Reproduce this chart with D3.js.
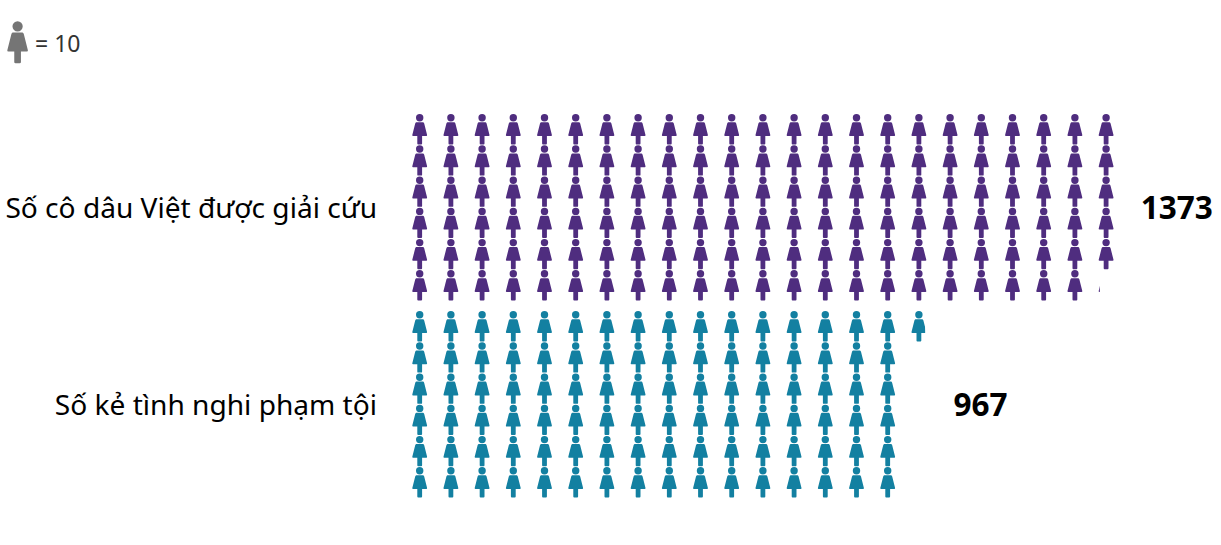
<!DOCTYPE html>
<html><head><meta charset="utf-8">
<script src="https://cdnjs.cloudflare.com/ajax/libs/d3/7.8.5/d3.min.js"></script>
<style>html,body{margin:0;padding:0;background:#fff}svg{display:block}text{font-family:"Noto Sans",sans-serif}</style>
</head><body><svg id="c" width="1221" height="545"></svg>
<script>
const categories=["Số cô dâu Việt được giải cứu","Số kẻ tình nghi phạm tội"];
const values=[1373,967];
const colors=["#4f2d7f","#1380a1"];
const unit=10, rowsPerCol=6, colCount=23;
const legendText="= 10";
const svg=d3.select("#c");
const x=d3.scaleLinear().domain([0,colCount]).range([404.1,404.1+31.2*colCount]);
const gy=d3.scaleBand().domain(categories).range([114,114+197*2]);
const ry=d3.scaleLinear().domain([0,rowsPerCol]).range([0,31.2*rowsPerCol]);
const body=d3.path();
body.moveTo(-3.5,8.2);body.lineTo(3.5,8.2);body.quadraticCurveTo(4.2,8.4,4.5,9.5);body.lineTo(7.4,21);body.quadraticCurveTo(7.6,22,6.6,22);
body.lineTo(2.4,22);body.lineTo(2.4,29.5);body.quadraticCurveTo(2.4,30.4,1.5,30.4);body.lineTo(-1.5,30.4);body.quadraticCurveTo(-2.4,30.4,-2.4,29.5);body.lineTo(-2.4,22);
body.lineTo(-6.6,22);body.quadraticCurveTo(-7.6,22,-7.4,21);body.lineTo(-4.5,9.5);body.quadraticCurveTo(-4.2,8.4,-3.5,8.2);body.closePath();
body.moveTo(3.7,3.8);body.arc(0,3.8,3.7,0,2*Math.PI);
const shape=body.toString();
const defs=svg.append("defs");
categories.forEach((cat,ci)=>{
  const n=values[ci]/unit, cells=d3.range(Math.ceil(n)).map(i=>({i,frac:Math.min(1,n-i)}));
  const g=svg.append("g").attr("transform",`translate(0,${gy(cat)})`);
  cells.forEach(d=>{
    const col=Math.floor(d.i/rowsPerCol), row=d.i%rowsPerCol, cx0=x(col), cw=x(col+1)-x(col);
    const id=`clip-${ci}-${d.i}`;
    if(d.frac<1) defs.append("clipPath").attr("id",id).append("rect").attr("x",-cw/2).attr("y",-2).attr("width",cw*d.frac).attr("height",36);
    const p=g.append("path").attr("d",shape).attr("fill",colors[ci]).attr("transform",`translate(${cx0+cw/2},${ry(row)})`);
    if(d.frac<1) p.attr("clip-path",`url(#${id})`);
  });
  svg.append("text").attr("x",377).attr("y",gy(cat)+94+10).attr("text-anchor","end").attr("font-size",28.1).attr("fill","#000").text(cat);
  const lastCol=Math.ceil(n/rowsPerCol);
  svg.append("text").attr("x",x(lastCol)+19).attr("y",gy(cat)+94+11).attr("font-size",31.5).attr("font-weight",700).attr("fill","#000").text(values[ci]);
});
svg.append("path").attr("d",shape).attr("fill","#757575").attr("transform","translate(17.6,21) scale(1.39)");
svg.append("text").attr("x",35).attr("y",52).attr("font-size",23).attr("fill","#333").text(legendText);
</script></body></html>
